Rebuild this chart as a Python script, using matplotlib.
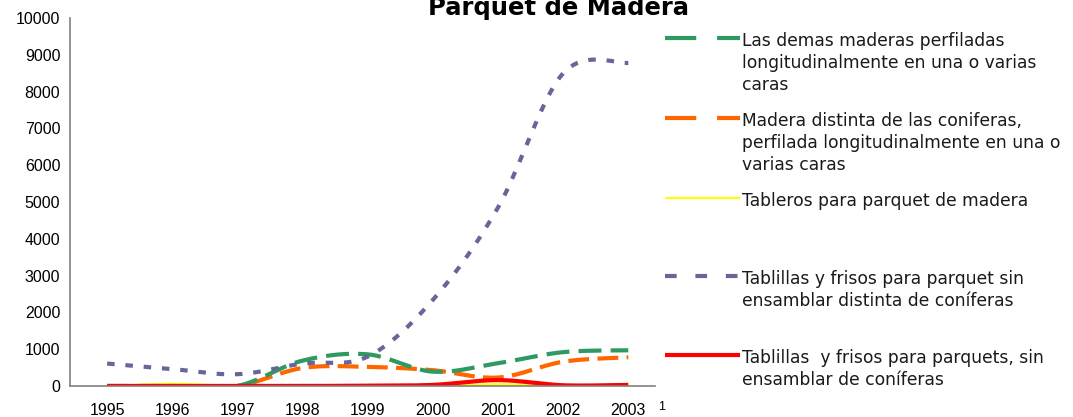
import numpy as np
import matplotlib
matplotlib.use('Agg')
import matplotlib.pyplot as plt
from matplotlib.lines import Line2D

years = ['1995', '1996', '1997', '1998', '1999', '2000', '2001', '2002', '2003']

demas_perfiladas = [0, 0, 0, 690, 860, 390, 620, 920, 970]
distinta_coniferas = [0, 0, 0, 490, 520, 430, 230, 660, 780]
tableros = [0, 60, 0, 0, 0, 0, 50, 0, 0]
tablillas_distinta = [610, 460, 320, 610, 800, 2340, 4850, 8500, 8780]
tablillas_coniferas = [0, 0, 0, 0, 10, 30, 160, 20, 30]

labels = [
    'Las demas maderas perfiladas\nlongitudinalmente en una o varias\ncaras',
    'Madera distinta de las coniferas,\nperfilada longitudinalmente en una o\nvarias caras',
    'Tableros para parquet de madera',
    'Tablillas y frisos para parquet sin\nensamblar distinta de coníferas',
    'Tablillas  y frisos para parquets, sin\nensamblar de coníferas',
]


def smooth(y, n=20):
    # Catmull-Rom style smoothing like the spreadsheet's smoothed lines
    y = np.asarray(y, dtype=float)
    x = np.arange(len(y), dtype=float)
    px = np.concatenate([[x[0]], x, [x[-1]]])
    py = np.concatenate([[y[0]], y, [y[-1]]])
    xs, ys = [], []
    for i in range(1, len(px) - 2):
        t = np.linspace(0, 1, n, endpoint=False)
        for arr, out in ((px, xs), (py, ys)):
            p0, p1, p2, p3 = arr[i - 1], arr[i], arr[i + 1], arr[i + 2]
            m1 = (p2 - p0) / 2
            m2 = (p3 - p1) / 2
            h00 = 2 * t**3 - 3 * t**2 + 1
            h10 = t**3 - 2 * t**2 + t
            h01 = -2 * t**3 + 3 * t**2
            h11 = t**3 - t**2
            out.extend(h00 * p1 + h10 * m1 + h01 * p2 + h11 * m2)
    xs.append(x[-1])
    ys.append(y[-1])
    return np.array(xs), np.array(ys)


styles = [
    dict(color='#2E9960', lw=3.0, dashes=(5.5, 2.2)),
    dict(color='#FF6600', lw=3.0, dashes=(5.0, 2.0)),
    dict(color='#FFFF00', lw=1.5),
    dict(color='#666699', lw=3.0, dashes=(1.8, 2.6)),
    dict(color='#FF0000', lw=3.0),
]
legend_dashes = [(7.5, 5), (7.5, 5), None, (2.8, 4.5), None]
series = [demas_perfiladas, distinta_coniferas, tableros, tablillas_distinta, tablillas_coniferas]

fig = plt.figure(figsize=(10.73, 4.17), dpi=100)
ax = fig.add_axes([70 / 1073, 31 / 417, 585 / 1073, 368 / 417])

draw_order = [2, 1, 0, 3, 4]
for i in draw_order:
    xs, ys = smooth(series[i])
    st = dict(styles[i])
    dashes = st.pop('dashes', None)
    line, = ax.plot(xs, ys, solid_capstyle='butt', **st)
    if dashes:
        line.set_dashes(dashes)
        line.set_dash_capstyle('butt')

ax.set_xlim(-0.57, 8.41)
ax.set_ylim(0, 10000)
ax.set_xticks(range(len(years)))
ax.set_xticklabels(years, family='Liberation Sans', fontsize=11.5)
ax.set_yticks(range(0, 10001, 1000))
ax.set_yticklabels([str(v) for v in range(0, 10001, 1000)], family='Liberation Sans', fontsize=11.5)
ax.tick_params(axis='y', length=0, pad=7)
ax.tick_params(axis='x', length=0, pad=12)
for s in ['top', 'right']:
    ax.spines[s].set_visible(False)
for s in ['left', 'bottom']:
    ax.spines[s].set_color('#808080')
    ax.spines[s].set_linewidth(1.2)

# title is partly cut off at the top, as in the original
fig.text(558 / 1073, 1 - 15 / 417, 'Parquet de Madera', ha='center', va='baseline',
         fontsize=17.5, fontweight='bold', family='DejaVu Sans')
fig.text(662 / 1073, 1 - 407 / 417, '1', ha='center', va='center',
         fontsize=9, family='Liberation Sans')

# legend drawn by hand
legend_y = [38, 118, 198, 276, 355]
for i, yy in enumerate(legend_y):
    st = dict(styles[i])
    st.pop('dashes', None)
    fy = 1 - yy / 417
    ln = Line2D([665 / 1073, 740 / 1073], [fy, fy], transform=fig.transFigure, **st)
    if legend_dashes[i]:
        ln.set_dashes(legend_dashes[i])
    ln.set_solid_capstyle('butt')
    ln.set_dash_capstyle('butt')
    fig.add_artist(ln)
    fig.text(742 / 1073, 1 - (yy - 6) / 417, labels[i], ha='left', va='top',
             fontsize=12.3, family='DejaVu Sans', color='#1a1a1a', linespacing=1.28)

fig.savefig('out.png', dpi=100)
